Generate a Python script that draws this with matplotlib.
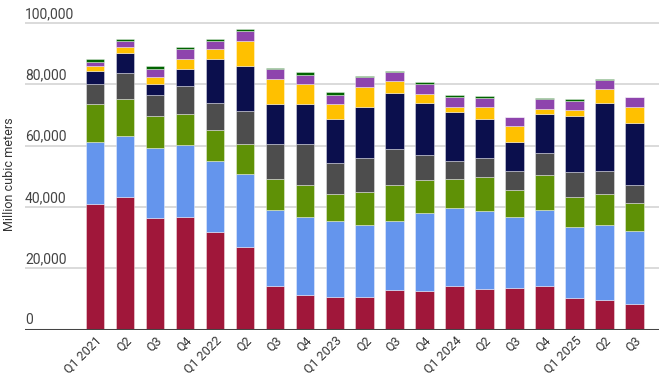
import matplotlib.pyplot as plt
import matplotlib.transforms as mtransforms
import numpy as np

plt.rcParams["font.family"] = ["Roboto", "DejaVu Sans"]

quarters = ["Q1 2021", "Q2", "Q3", "Q4", "Q1 2022", "Q2", "Q3", "Q4",
            "Q1 2023", "Q2", "Q3", "Q4", "Q1 2024", "Q2", "Q3", "Q4",
            "Q1 2025", "Q2", "Q3"]

# stacked segments, bottom to top, in million cubic meters
seg_red = [41100, 43100, 36300, 36700, 31900, 26900, 14100, 11400, 10700, 10700,
           12900, 12600, 14100, 13300, 13700, 14100, 10300, 9600, 8400]
seg_blue = [20100, 20000, 23100, 23400, 23200, 23800, 25000, 25300, 24700, 23400,
            22500, 25300, 25600, 25300, 23000, 25000, 23300, 24500, 23800]
seg_green = [12400, 12100, 10200, 10400, 9900, 10000, 10100, 10600, 8900, 10900,
             11900, 10800, 9400, 11200, 9000, 11200, 9800, 10200, 9000]
seg_grey = [6700, 8700, 7100, 8900, 9000, 10700, 11300, 13400, 10200, 10900,
            11600, 8400, 5900, 6100, 6100, 7200, 8000, 7600, 5900]
seg_navy = [4100, 6500, 3600, 5500, 14400, 14700, 13100, 12900, 14300, 16800,
            18400, 16800, 15900, 12900, 9400, 12700, 18300, 22000, 20400]
seg_yellow = [1600, 1700, 2000, 3300, 3200, 8100, 8200, 6400, 4800, 6500,
              3800, 3000, 1900, 3700, 5300, 1800, 2000, 4600, 5000]
seg_purple = [1500, 2200, 2700, 3300, 2600, 3100, 3200, 3000, 3100, 3100,
              3100, 3400, 3200, 3200, 2900, 3300, 2900, 3100, 3300]
seg_dkgreen = [700, 700, 1100, 600, 800, 700, 300, 1100, 700, 600,
               300, 400, 600, 500, 0, 400, 600, 300, 0]

yticks = [0, 20000, 40000, 60000, 80000, 100000]

segments = [seg_red, seg_blue, seg_green, seg_grey, seg_navy,
            seg_yellow, seg_purple, seg_dkgreen]
colors = ["#A0173A", "#6495ED", "#5F9106", "#4D4D4D", "#0B0F4D",
          "#FFC000", "#8E44AD", "#006400"]

fig = plt.figure(figsize=(6.59, 3.84), dpi=100)
ax = fig.add_axes([25 / 659, 54.5 / 384, 634 / 659, 312.4 / 384])

x = np.arange(len(quarters))
bottom = np.zeros(len(quarters))
for seg, col in zip(segments, colors):
    vals = np.array(seg, dtype=float)
    ax.bar(x, vals, width=0.62, bottom=bottom, color=col,
           edgecolor=(1, 1, 1, 0.45), linewidth=0.6, zorder=3)
    bottom += vals

ax.set_xlim(-2.34, 18.82)
ax.set_ylim(0, 102000)

for s in ["top", "right", "left", "bottom"]:
    ax.spines[s].set_visible(False)
ax.axhline(0, color="#444444", lw=2.2, zorder=4)

ax.set_yticks(yticks)
ax.yaxis.grid(True, color="#d4d4d4", lw=1.2, zorder=0)
ax.tick_params(axis="y", length=0, labelleft=False)

trans = mtransforms.blended_transform_factory(ax.transAxes, ax.transData)
for v in yticks:
    ax.annotate(f"{v:,}", xy=(0, v), xycoords=trans, xytext=(0, 1.5),
                textcoords="offset points", ha="left", va="bottom",
                fontsize=10, color="#444444")

ax.set_xticks(x)
ax.set_xticklabels(quarters, rotation=45, ha="right", va="top",
                   rotation_mode="anchor", fontsize=9, color="#333333")
ax.tick_params(axis="x", length=0, pad=3)

fig.text(10 / 659, 0.547, "Million cubic meters", rotation=90,
         ha="center", va="center", fontsize=9, color="#333333")

fig.savefig("out.png", dpi=100)
